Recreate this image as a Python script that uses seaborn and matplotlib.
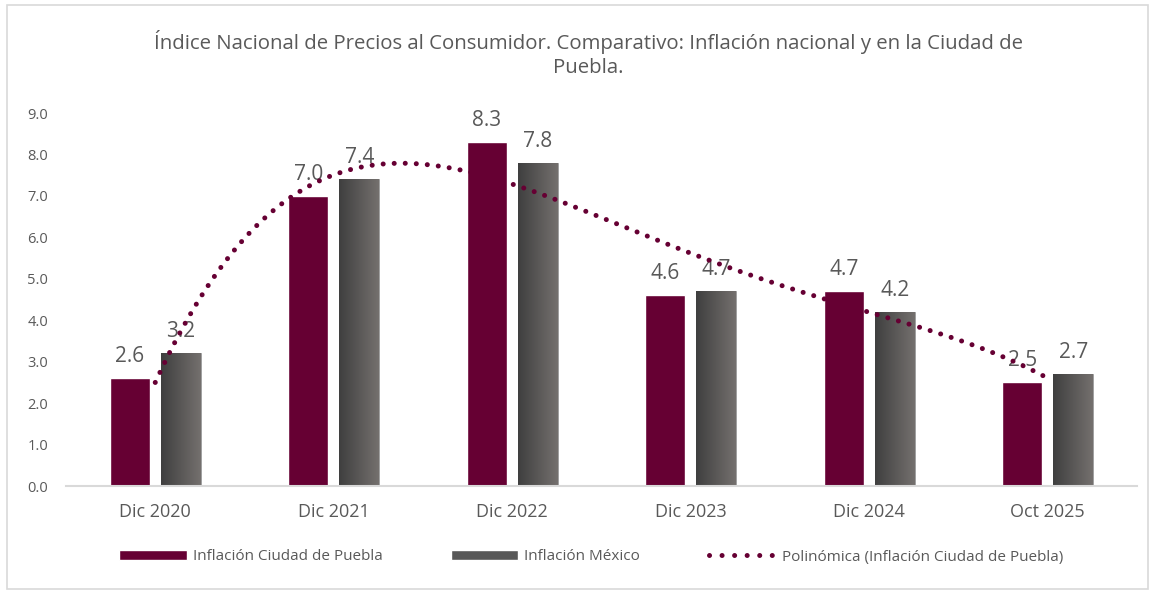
import numpy as np
import pandas as pd
import matplotlib.pyplot as plt
import seaborn as sns
from matplotlib.patches import Rectangle
from matplotlib.lines import Line2D
from matplotlib.colors import LinearSegmentedColormap

# data
periodos = ["Dic 2020", "Dic 2021", "Dic 2022", "Dic 2023", "Dic 2024", "Oct 2025"]
puebla = [2.6, 7.0, 8.3, 4.6, 4.7, 2.5]
mexico = [3.2, 7.4, 7.8, 4.7, 4.2, 2.7]
series = ["Inflación Ciudad de Puebla", "Inflación México"]

MAROON = "#660033"
GRAY_TXT = "#595959"

sns.set_style("white")
plt.rcParams["font.family"] = ["Open Sans", "DejaVu Sans"]

df = pd.DataFrame({
    "periodo": periodos * 2,
    "valor": puebla + mexico,
    "serie": [series[0]] * len(periodos) + [series[1]] * len(periodos),
})

fig = plt.figure(figsize=(11.53, 5.91), dpi=100)
ax = fig.add_axes([66 / 1153, 1 - 486 / 591, (1137 - 66) / 1153, (486 - 113) / 591])

sns.barplot(data=df, x="periodo", y="valor", hue="serie",
            palette=[MAROON, "#555555"], width=0.572, gap=0.217,
            saturation=1, legend=False, ax=ax)

# gradient fill on the national bars
grad = np.linspace(0, 1, 256).reshape(1, -1)
gcmap = LinearSegmentedColormap.from_list("g", ["#3f3f3f", "#74706e"])
for bar in ax.containers[1]:
    x0, y0 = bar.get_x(), bar.get_y()
    w, h = bar.get_width(), bar.get_height()
    im = ax.imshow(grad, cmap=gcmap, aspect="auto", extent=[x0, x0 + w, y0, y0 + h],
                   zorder=bar.get_zorder() + 0.1)
    im.set_clip_path(bar)
    bar.set_edgecolor("#a0a0a0")
    bar.set_linewidth(0.6)

for cont in ax.containers:
    ax.bar_label(cont, fmt="%.1f", padding=8, fontsize=15, color=GRAY_TXT, zorder=5)

# polynomial trendline (order 4) for Puebla
xs = np.arange(len(puebla))
coef = np.polyfit(xs, puebla, 4)
xf = np.linspace(0, len(puebla) - 1, 400)
ax.plot(xf, np.polyval(coef, xf), color=MAROON, lw=3.6, linestyle=(0, (0.01, 2.2)),
        dash_capstyle="round", zorder=6)

ax.set_xlim(-0.5, len(periodos) - 0.5)
ax.set_ylim(0, 9)
ax.set_yticks(np.arange(0, 9.5, 1))
ax.set_yticklabels([f"{v:.1f}" for v in np.arange(0, 9.5, 1)])
ax.set_xlabel("")
ax.set_ylabel("")
ax.tick_params(axis="y", labelsize=10.5, colors=GRAY_TXT, length=0, pad=13)
ax.tick_params(axis="x", labelsize=13, colors=GRAY_TXT, length=0, pad=12)
for s in ["top", "right", "left"]:
    ax.spines[s].set_visible(False)
ax.spines["bottom"].set_color("#d9d9d9")
ax.spines["bottom"].set_linewidth(1.5)

fig.text(0.51, 1 - 42 / 591, "Índice Nacional de Precios al Consumidor. Comparativo: Inflación nacional y en la Ciudad de",
         ha="center", va="center", fontsize=14.7, color=GRAY_TXT)
fig.text(0.51, 1 - 68 / 591, "Puebla.", ha="center", va="center", fontsize=14.7, color=GRAY_TXT)

handles = [
    Rectangle((0, 0), 1, 1, facecolor=MAROON),
    Rectangle((0, 0), 1, 1, facecolor="#585858"),
    Line2D([0], [0], color=MAROON, lw=3.6, linestyle=(0, (0.01, 2.5)), dash_capstyle="round"),
]
fig.legend(handles, ["Inflación Ciudad de Puebla", "Inflación México",
                     "Polinómica (Inflación Ciudad de Puebla)"],
           loc="center", bbox_to_anchor=(0.513, 1 - 557 / 591), ncol=3, frameon=False,
           fontsize=11, labelcolor=GRAY_TXT, handlelength=4.4, handleheight=0.6,
           columnspacing=4.5, handletextpad=0.4)

fig.patches.append(Rectangle((0.006, 0.004), 0.99, 0.988, transform=fig.transFigure,
                             fill=False, edgecolor="#d9d9d9", lw=1.2))

fig.savefig("out.png", dpi=100)
